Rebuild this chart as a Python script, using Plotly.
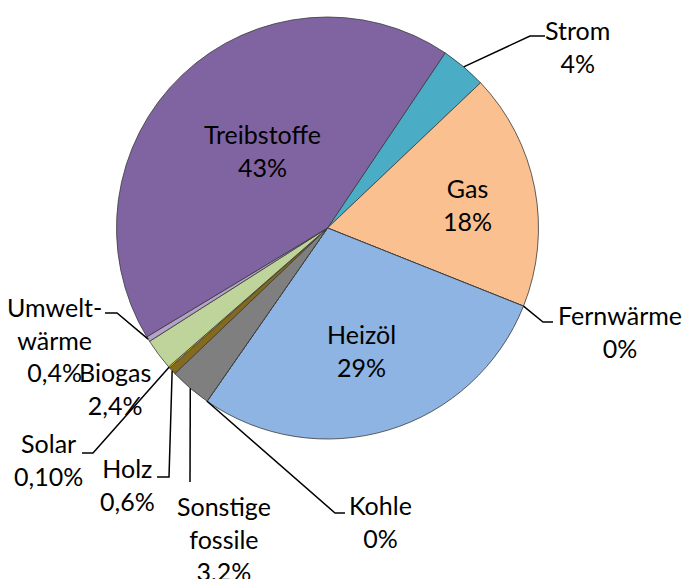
import math
import plotly.graph_objects as go

# ---------------- data ----------------
categories = ["Strom", "Gas", "Fernwärme", "Heizöl", "Kohle", "Sonstige fossile",
              "Holz", "Solar", "Biogas", "Umweltwärme", "Treibstoffe"]
label_names = ["Strom", "Gas", "Fernwärme", "Heizöl", "Kohle", "Sonstige<br>fossile",
               "Holz", "Solar", "Biogas", "Umwelt-<br>wärme", "Treibstoffe"]
values = [3.5, 18.1, 0.0, 28.6, 0.0, 3.2, 0.6, 0.1, 2.4, 0.4, 43.0]
pct_text = ["4%", "18%", "0%", "29%", "0%", "3,2%", "0,6%", "0,10%", "2,4%", "0,4%", "43%"]

# ---------------- styling / layout ----------------
colors = ["#4BACC6", "#FAC090", "#E46C0A", "#8EB4E3", "#404040", "#7F7F7F",
          "#846A1E", "#FFE500", "#BFD49B", "#B3A2C7", "#8064A2"]

W, H = 684, 579
ML, MR, MT, MB = 116, 145, 17, 140
PW, PH = W - ML - MR, H - MT - MB
CX, CY = ML + PW / 2, MT + PH / 2
R = min(PW, PH) / 2
ROTATION = 33.9
FONT = dict(family="Lato, 'Open Sans', sans-serif", size=25, color="#000000")

# label block centres (pixels) and leader-line bends (pixels)
label_pos = {
    "Strom": (577, 46),
    "Gas": (467, 205),
    "Fernwärme": (620, 331),
    "Heizöl": (361, 350),
    "Kohle": (380, 521),
    "Sonstige fossile": (224, 538),
    "Holz": (127, 485),
    "Solar": (48, 460),
    "Biogas": (115, 388),
    "Umweltwärme": (55, 339),
    "Treibstoffe": (262, 150),
}
leader_bends = {
    "Strom": [(530, 36), (545, 36)],
    "Fernwärme": [(543, 322), (553, 322)],
    "Kohle": [(335, 513), (345, 513)],
    "Sonstige fossile": [(190, 482)],
    "Holz": [(169, 477), (157, 477)],
    "Solar": [(93, 453), (82, 453)],
    "Umweltwärme": [(117, 313), (105, 313)],
}


def to_paper(px, py):
    return (px - ML) / PW, 1 - (py - MT) / PH


fig = go.Figure(go.Pie(
    labels=categories,
    values=values,
    sort=False,
    direction="clockwise",
    rotation=ROTATION,
    textinfo="none",
    hoverinfo="label+percent",
    marker=dict(colors=colors, line=dict(color="#3a3a3a", width=0.8)),
    showlegend=False,
))

total = sum(values)
cum = 0.0
annotations = []
shapes = []
for name, lab, v, pct in zip(categories, label_names, values, pct_text):
    mid = ROTATION + (cum + v / 2) / total * 360.0
    cum += v
    lx, ly = label_pos[name]
    px, py = to_paper(lx, ly)
    annotations.append(dict(
        x=px, y=py, xref="paper", yref="paper",
        text=f"{lab}<br>{pct}", showarrow=False,
        xanchor="center", yanchor="middle", align="center", font=FONT,
    ))
    if name in leader_bends:
        a = math.radians(mid)
        ex, ey = CX + R * math.sin(a), CY - R * math.cos(a)
        pts = [(ex, ey)] + leader_bends[name]
        path = ""
        for i, (qx, qy) in enumerate(pts):
            sx, sy = to_paper(qx, qy)
            path += ("M" if i == 0 else " L") + f" {sx:.5f} {sy:.5f}"
        shapes.append(dict(type="path", xref="paper", yref="paper", path=path,
                           line=dict(color="#000000", width=1.5)))

fig.update_layout(
    width=W, height=H,
    margin=dict(l=ML, r=MR, t=MT, b=MB),
    paper_bgcolor="white", plot_bgcolor="white",
    annotations=annotations,
    shapes=shapes,
)

fig.write_html(
    "out.html",
    config={"displayModeBar": False},
    post_script="document.body.style.margin='0';document.body.style.overflow='hidden';",
)
